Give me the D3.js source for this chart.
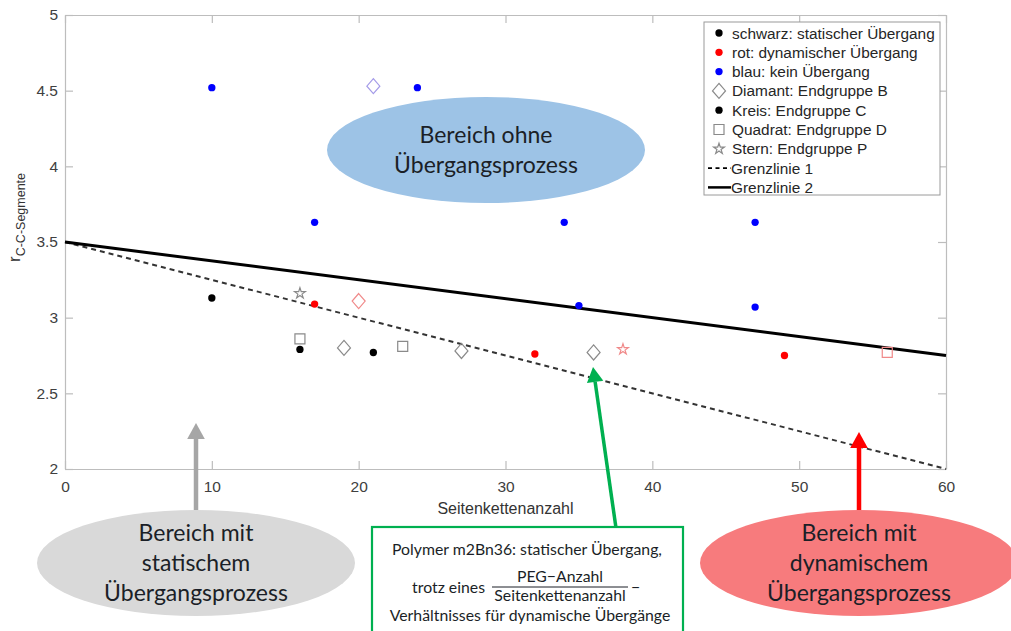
<!DOCTYPE html>
<html>
<head>
<meta charset="utf-8">
<script src="https://cdn.jsdelivr.net/npm/d3@7"></script>
<style>
  body { margin: 0; background: #fff; }
  svg { display: block; }
  .tick text { font-family: "Liberation Sans", Arial, sans-serif; font-size: 15.5px; fill: #404040; }
  .callout { font-family: Lato, "Open Sans", sans-serif; fill: #1b1f27; }
</style>
</head>
<body>
<svg></svg>
<script>
var width = 1011;
var height = 631;

// data
var pointX = [10, 24, 17, 34, 47, 35, 47, 21, 10, 16, 21, 17, 32, 49, 20, 16, 16, 23, 19, 27, 36, 38, 56];
var pointY = [4.52, 4.52, 3.63, 3.63, 3.63, 3.08, 3.07, 4.53, 3.13, 2.79, 2.77, 3.09, 2.76, 2.75, 3.11, 3.16, 2.86, 2.81, 2.80, 2.78, 2.77, 2.79, 2.77];
var pointFarbe = ["blau", "blau", "blau", "blau", "blau", "blau", "blau", "lila",
                  "schwarz", "schwarz", "schwarz", "rot", "rot", "rot", "hellrot",
                  "grau", "grau", "grau", "grau", "grau", "grau", "hellrot", "hellrot"];
var pointForm = ["kreis", "kreis", "kreis", "kreis", "kreis", "kreis", "kreis", "diamant",
                 "kreis", "kreis", "kreis", "kreis", "kreis", "kreis", "diamant",
                 "stern", "quadrat", "quadrat", "diamant", "diamant", "diamant", "stern", "quadrat"];

var grenze1X = [0, 60];
var grenze1Y = [3.5, 2.0];
var grenze2X = [0, 60];
var grenze2Y = [3.5, 2.75];

var xTicks = [0, 10, 20, 30, 40, 50, 60];
var yTicks = [2, 2.5, 3, 3.5, 4, 4.5, 5];

var legendLabels = ["schwarz: statischer Übergang", "rot: dynamischer Übergang", "blau: kein Übergang",
                    "Diamant: Endgruppe B", "Kreis: Endgruppe C", "Quadrat: Endgruppe D",
                    "Stern: Endgruppe P", "Grenzlinie 1", "Grenzlinie 2"];
var legendForm = ["kreis", "kreis", "kreis", "diamant", "kreis", "quadrat", "stern", "dash", "solid"];
var legendFarbe = ["schwarz", "rot", "blau", "grau", "schwarz", "grau", "grau", "linie", "linie"];

var farben = {
  blau: "#0000ff", schwarz: "#000000", rot: "#ff0000",
  grau: "#8a8a8a", hellrot: "#f08a8a", lila: "#a49be8", linie: "#000"
};

var plotLeft = 65, plotRight = 946, plotTop = 15, plotBottom = 469;

var xScale = d3.scaleLinear().domain([0, 60]).range([plotLeft, plotRight]);
var yScale = d3.scaleLinear().domain([2, 5]).range([plotBottom, plotTop]);

var svg = d3.select("svg").attr("width", width).attr("height", height);

svg.append("rect").attr("width", width).attr("height", height).attr("fill", "#fff");

// axes, MATLAB style box with inward ticks
var xAxis = d3.axisBottom(xScale).tickValues(xTicks).tickSize(-8).tickSizeOuter(0).tickPadding(12).tickFormat(d3.format("d"));
var yAxis = d3.axisLeft(yScale).tickValues(yTicks).tickSize(-8).tickSizeOuter(0).tickPadding(7).tickFormat(d => d);
var xAxisTop = d3.axisTop(xScale).tickValues(xTicks).tickSize(-8).tickSizeOuter(0).tickFormat("");
var yAxisRight = d3.axisRight(yScale).tickValues(yTicks).tickSize(-8).tickSizeOuter(0).tickFormat("");

[
  [xAxis, `translate(0, ${plotBottom})`],
  [yAxis, `translate(${plotLeft}, 0)`],
  [xAxisTop, `translate(0, ${plotTop})`],
  [yAxisRight, `translate(${plotRight}, 0)`]
].forEach(function (a) {
  var g = svg.append("g").attr("transform", a[1]).call(a[0]);
  g.selectAll("path, line").attr("stroke", "#bdbdbd").attr("stroke-width", 1.2);
});

svg.append("text")
  .attr("x", (plotLeft + plotRight) / 2)
  .attr("y", 514)
  .attr("text-anchor", "middle")
  .style("font-family", "Liberation Sans, Arial, sans-serif")
  .style("font-size", "16px")
  .attr("fill", "#333")
  .text("Seitenkettenanzahl");

var ylab = svg.append("text")
  .attr("transform", "translate(20, 262) rotate(-90)")
  .style("font-family", "Liberation Sans, Arial, sans-serif")
  .attr("fill", "#333");
ylab.append("tspan").style("font-size", "17px").text("r");
ylab.append("tspan").style("font-size", "12.5px").attr("dy", 5).text("C-C-Segmente");

// boundary lines
var line = d3.line().x(d => xScale(d[0])).y(d => yScale(d[1]));
svg.append("path")
  .datum(d3.zip(grenze1X, grenze1Y))
  .attr("d", line)
  .attr("fill", "none").attr("stroke", "#333").attr("stroke-width", 2).attr("stroke-dasharray", "5,4");
svg.append("path")
  .datum(d3.zip(grenze2X, grenze2Y))
  .attr("d", line)
  .attr("fill", "none").attr("stroke", "#000").attr("stroke-width", 3);

// marker shapes
function markerPath(form) {
  if (form == "diamant") return "M0,-7.5L6.5,0L0,7.5L-6.5,0Z";
  if (form == "quadrat") return "M-5,-5H5V5H-5Z";
  if (form == "stern") return d3.symbol(d3.symbolStar, 36)();
  return d3.symbol(d3.symbolCircle, 42)();
}

function drawMarker(sel, form, farbe) {
  var filled = form == "kreis";
  sel.append("path")
    .attr("d", markerPath(form))
    .attr("fill", filled ? farben[farbe] : "none")
    .attr("stroke", filled ? "none" : farben[farbe])
    .attr("stroke-width", 1.2);
}

var punkte = pointX.map((x, i) => ({ x: x, y: pointY[i], farbe: pointFarbe[i], form: pointForm[i] }));

svg.append("g")
  .selectAll("g")
  .data(punkte)
  .enter()
  .append("g")
  .attr("transform", d => `translate(${xScale(d.x)}, ${yScale(d.y)})`)
  .each(function (d) { drawMarker(d3.select(this), d.form, d.farbe); });

// legend
var legend = svg.append("g").attr("transform", "translate(704, 22)");
legend.append("rect").attr("width", 236).attr("height", 173)
  .attr("fill", "#fff").attr("stroke", "#9a9a9a").attr("stroke-width", 1);
legendLabels.forEach(function (lab, i) {
  var y = 11 + i * 19.3;
  var row = legend.append("g").attr("transform", `translate(0, ${y})`);
  if (legendForm[i] == "dash" || legendForm[i] == "solid") {
    row.append("line").attr("x1", 4).attr("x2", 27)
      .attr("stroke", "#000")
      .attr("stroke-width", legendForm[i] == "solid" ? 2.5 : 1.6)
      .attr("stroke-dasharray", legendForm[i] == "dash" ? "4,3.5" : null);
    row.append("text").attr("x", 27).attr("dy", "0.36em")
      .style("font-family", "Liberation Sans, Arial, sans-serif").style("font-size", "15.4px")
      .attr("fill", "#262626").text(lab);
  } else {
    var m = row.append("g").attr("transform", "translate(15, 0)");
    drawMarker(m, legendForm[i], legendFarbe[i]);
    row.append("text").attr("x", 28).attr("dy", "0.36em")
      .style("font-family", "Liberation Sans, Arial, sans-serif").style("font-size", "15.4px")
      .attr("fill", "#262626").text(lab);
  }
});

// region callouts
function ellipse(cx, cy, color, lines) {
  svg.append("ellipse").attr("cx", cx).attr("cy", cy).attr("rx", 159).attr("ry", 53).attr("fill", color);
  var start = cy - (lines.length - 1) * 15;
  lines.forEach(function (t, i) {
    svg.append("text").attr("class", "callout")
      .attr("x", cx).attr("y", start + i * 30).attr("dy", "0.35em")
      .attr("text-anchor", "middle").style("font-size", "23px").text(t);
  });
}

function arrow(x1, y1, x2, y2, color, w, head) {
  var ang = Math.atan2(y2 - y1, x2 - x1);
  var bx = x2 - head * Math.cos(ang), by = y2 - head * Math.sin(ang);
  svg.append("line").attr("x1", x1).attr("y1", y1).attr("x2", bx).attr("y2", by)
    .attr("stroke", color).attr("stroke-width", w);
  var px = -Math.sin(ang) * head * 0.55, py = Math.cos(ang) * head * 0.55;
  svg.append("path")
    .attr("d", `M${x2},${y2}L${bx + px},${by + py}L${bx - px},${by - py}Z`)
    .attr("fill", color);
}

ellipse(486, 150, "#9dc3e6", ["Bereich ohne", "Übergangsprozess"]);

arrow(196, 512, 196, 423, "#a6a6a6", 4.5, 16);
ellipse(196, 563, "#d9d9d9", ["Bereich mit", "statischem", "Übergangsprozess"]);

arrow(859, 512, 859, 432, "#ff0000", 4.5, 16);
ellipse(859, 563, "#f77b7d", ["Bereich mit", "dynamischem", "Übergangsprozess"]);

// green note
arrow(616, 528, 593, 367, "#00b050", 3.5, 15);
svg.append("rect").attr("x", 372).attr("y", 527).attr("width", 311).attr("height", 110)
  .attr("fill", "#fff").attr("stroke", "#00b050").attr("stroke-width", 2.2);

var note = svg.append("g").attr("class", "callout").style("font-size", "15.8px");
note.append("text").attr("x", 527).attr("y", 555).attr("text-anchor", "middle")
  .text("Polymer m2Bn36: statischer Übergang,");
note.append("text").attr("x", 485).attr("y", 593).attr("text-anchor", "end").text("trotz eines");
note.append("text").attr("x", 560).attr("y", 582).attr("text-anchor", "middle").text("PEG−Anzahl");
note.append("line").attr("x1", 492).attr("x2", 628).attr("y1", 587).attr("y2", 587)
  .attr("stroke", "#1b1f27").attr("stroke-width", 1);
note.append("text").attr("x", 560).attr("y", 601).attr("text-anchor", "middle").text("Seitenkettenanzahl");
note.append("text").attr("x", 631).attr("y", 593).text("−");
note.append("text").attr("x", 530).attr("y", 621).attr("text-anchor", "middle")
  .text("Verhältnisses für dynamische Übergänge");
</script>
</body>
</html>
